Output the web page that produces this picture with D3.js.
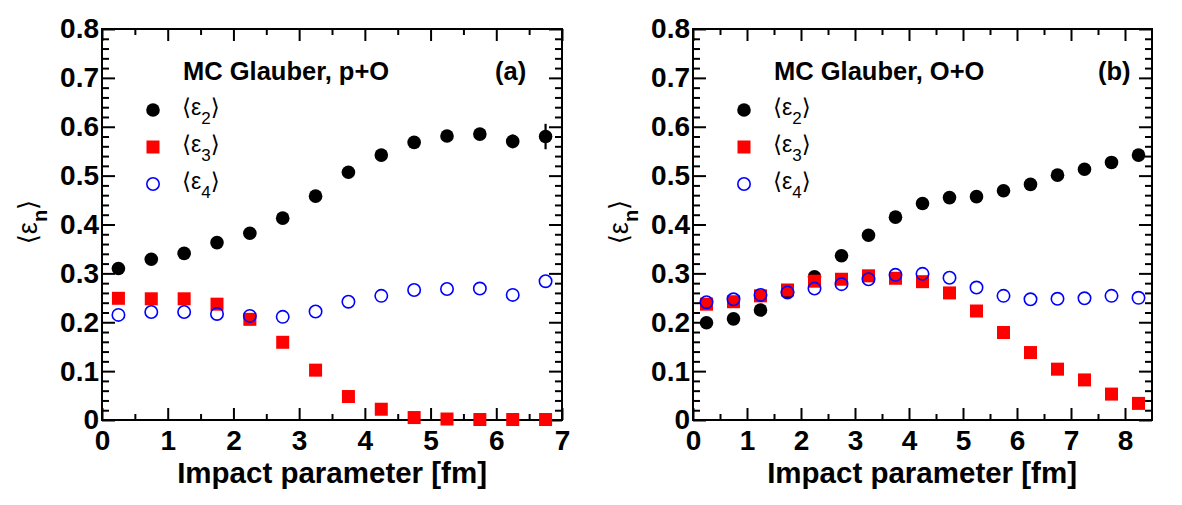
<!DOCTYPE html>
<html>
<head>
<meta charset="utf-8">
<script src="https://cdn.jsdelivr.net/npm/d3@7"></script>
<style>
  body { margin: 0; background: #fff; }
  svg { display: block; }
  .tick-label { font-family: "Liberation Sans", Arial, sans-serif; font-weight: bold; }
</style>
</head>
<body>
<div id="chart"></div>
<script>
// impact parameter bins [fm]
const impactPO = [0.25, 0.75, 1.25, 1.75, 2.25, 2.75, 3.25, 3.75, 4.25, 4.75, 5.25, 5.75, 6.25, 6.75];
const impactOO = [0.25, 0.75, 1.25, 1.75, 2.25, 2.75, 3.25, 3.75, 4.25, 4.75, 5.25, 5.75, 6.25, 6.75, 7.25, 7.75, 8.25];

// p+O
const eps2PO = [0.310, 0.329, 0.341, 0.363, 0.382, 0.413, 0.458, 0.507, 0.542, 0.568, 0.581, 0.585, 0.570, 0.580];
const eps2POerr = [0, 0, 0, 0, 0, 0, 0, 0, 0, 0, 0.003, 0.005, 0.014, 0.026];
const eps3PO = [0.249, 0.248, 0.248, 0.237, 0.206, 0.159, 0.102, 0.048, 0.022, 0.005, 0.002, 0.001, 0.001, 0.001];
const eps4PO = [0.215, 0.221, 0.221, 0.217, 0.213, 0.211, 0.222, 0.242, 0.254, 0.266, 0.268, 0.269, 0.256, 0.284];

// O+O
const eps2OO = [0.199, 0.207, 0.225, 0.262, 0.293, 0.336, 0.378, 0.415, 0.443, 0.455, 0.457, 0.469, 0.482, 0.501, 0.513, 0.527, 0.542];
const eps3OO = [0.237, 0.242, 0.254, 0.266, 0.284, 0.288, 0.295, 0.290, 0.283, 0.260, 0.223, 0.179, 0.138, 0.104, 0.082, 0.053, 0.034];
const eps4OO = [0.241, 0.247, 0.256, 0.261, 0.269, 0.278, 0.288, 0.297, 0.299, 0.291, 0.271, 0.254, 0.247, 0.248, 0.249, 0.254, 0.250];

const yTicks = [0, 0.1, 0.2, 0.3, 0.4, 0.5, 0.6, 0.7, 0.8];
const legendLabels = ["2", "3", "4"];

const W = 1182, H = 505;
const TOP = 29, BOTTOM = 420;
const FONT = '"Liberation Sans", Arial, Helvetica, sans-serif';

const panels = [
  {
    left: 102, right: 562, xMax: 7, title: "MC Glauber, p+O", tag: "(a)", tagX: 393,
    b: impactPO, series: [eps2PO, eps3PO, eps4PO], err: eps2POerr,
  },
  {
    left: 693, right: 1152, xMax: 8.5, title: "MC Glauber, O+O", tag: "(b)", tagX: 405,
    b: impactOO, series: [eps2OO, eps3OO, eps4OO], err: null,
  },
];

const svg = d3.select("#chart").append("svg").attr("width", W).attr("height", H);
svg.append("rect").attr("width", W).attr("height", H).attr("fill", "#fff");

const y = d3.scaleLinear().domain([0, 0.8]).range([BOTTOM, TOP]);

function drawMarker(g, kind, cx, cy) {
  if (kind === 0) {
    g.append("circle").attr("cx", cx).attr("cy", cy).attr("r", 6.8).attr("fill", "#000");
  } else if (kind === 1) {
    g.append("rect").attr("x", cx - 6.5).attr("y", cy - 6.5).attr("width", 13).attr("height", 13).attr("fill", "#ff0000");
  } else {
    g.append("circle").attr("cx", cx).attr("cy", cy).attr("r", 6.2)
      .attr("fill", "none").attr("stroke", "#0000ff").attr("stroke-width", 1.6);
  }
}

function styleAxis(g) {
  g.select(".domain").remove();
  g.attr("font-family", null).attr("font-size", null);
  g.selectAll("line").attr("stroke", "#000").attr("stroke-width", 2);
  g.selectAll("text").attr("class", "tick-label").attr("font-size", 28).attr("fill", "#000");
}

panels.forEach((p) => {
  const x = d3.scaleLinear().domain([0, p.xMax]).range([p.left, p.right]);
  const g = svg.append("g");
  const majorX = d3.range(0, Math.floor(p.xMax) + 1);
  const minorX = d3.range(0.5, p.xMax, 1);
  const minorY = d3.range(0.02, 0.8, 0.02).filter((v) => Math.abs(v * 10 - Math.round(v * 10)) > 1e-6);

  // bottom / top ticks
  g.append("g").attr("transform", `translate(0,${BOTTOM})`)
    .call(d3.axisBottom(x).tickValues(majorX).tickSize(-12).tickPadding(10).tickFormat(d3.format("d")))
    .call(styleAxis);
  g.append("g").attr("transform", `translate(0,${BOTTOM})`)
    .call(d3.axisBottom(x).tickValues(minorX).tickSize(-6).tickFormat(""))
    .call(styleAxis);
  g.append("g").attr("transform", `translate(0,${TOP})`)
    .call(d3.axisTop(x).tickValues(majorX).tickSize(-12).tickFormat(""))
    .call(styleAxis);
  g.append("g").attr("transform", `translate(0,${TOP})`)
    .call(d3.axisTop(x).tickValues(minorX).tickSize(-6).tickFormat(""))
    .call(styleAxis);

  // left / right ticks
  g.append("g").attr("transform", `translate(${p.left},0)`)
    .call(d3.axisLeft(y).tickValues(yTicks).tickSize(-13).tickPadding(3).tickFormat((d) => (d === 0 ? "0" : d3.format(".1f")(d))))
    .call(styleAxis);
  g.append("g").attr("transform", `translate(${p.left},0)`)
    .call(d3.axisLeft(y).tickValues(minorY).tickSize(-7).tickFormat(""))
    .call(styleAxis);
  g.append("g").attr("transform", `translate(${p.right},0)`)
    .call(d3.axisRight(y).tickValues(yTicks).tickSize(-13).tickFormat(""))
    .call(styleAxis);
  g.append("g").attr("transform", `translate(${p.right},0)`)
    .call(d3.axisRight(y).tickValues(minorY).tickSize(-7).tickFormat(""))
    .call(styleAxis);

  // frame
  g.append("rect")
    .attr("x", p.left).attr("y", TOP)
    .attr("width", p.right - p.left).attr("height", BOTTOM - TOP)
    .attr("fill", "none").attr("stroke", "#000").attr("stroke-width", 2);

  // axis titles
  g.append("text")
    .attr("x", p.right - 75).attr("y", 483)
    .attr("text-anchor", "end")
    .attr("font-family", FONT).attr("font-weight", "bold").attr("font-size", 29.5)
    .text("Impact parameter [fm]");

  const yt = g.append("text")
    .attr("transform", `translate(${p.left - 65},222) rotate(-90)`)
    .attr("text-anchor", "middle")
    .attr("font-family", FONT).attr("font-size", 27);
  yt.append("tspan").attr("font-family", '"DejaVu Sans", sans-serif').attr("font-size", 26).text("\u27E8");
  yt.append("tspan").text("\u03B5");
  yt.append("tspan").attr("font-weight", "bold").attr("font-size", 20).attr("dy", 10).text("n");
  yt.append("tspan").attr("font-family", '"DejaVu Sans", sans-serif').attr("font-size", 26).attr("dy", -10).text("\u27E9");

  // header
  g.append("text")
    .attr("x", p.left + 81).attr("y", 80)
    .attr("font-family", FONT).attr("font-weight", "bold").attr("font-size", 25.5)
    .text(p.title);
  g.append("text")
    .attr("x", p.left + p.tagX).attr("y", 80)
    .attr("font-family", FONT).attr("font-weight", "bold").attr("font-size", 25.5)
    .text(p.tag);

  // legend
  legendLabels.forEach((lab, i) => {
    const ly = 110 + i * 37;
    const lg = g.append("g");
    drawMarker(lg, i, p.left + 51, ly);
    const t = lg.append("text")
      .attr("x", p.left + 80).attr("y", ly + 5)
      .attr("font-family", FONT).attr("font-size", 23);
    t.append("tspan").attr("font-family", '"DejaVu Sans", sans-serif').text("\u27E8");
    t.append("tspan").text("\u03B5");
    t.append("tspan").attr("font-size", 17).attr("dy", 9).text(lab);
    t.append("tspan").attr("font-family", '"DejaVu Sans", sans-serif').attr("dy", -9).text("\u27E9");
  });

  // error bars
  if (p.err) {
    g.append("g").selectAll("line")
      .data(p.b.map((b, i) => ({ b, v: p.series[0][i], e: p.err[i] })).filter((d) => d.e > 0))
      .join("line")
      .attr("x1", (d) => x(d.b)).attr("x2", (d) => x(d.b))
      .attr("y1", (d) => y(d.v - d.e)).attr("y2", (d) => y(d.v + d.e))
      .attr("stroke", "#000").attr("stroke-width", 2.2);
  }

  // data points
  p.series.forEach((vals, k) => {
    const sg = g.append("g");
    vals.forEach((v, i) => drawMarker(sg, k, x(p.b[i]), y(v)));
  });
});
</script>
</body>
</html>
